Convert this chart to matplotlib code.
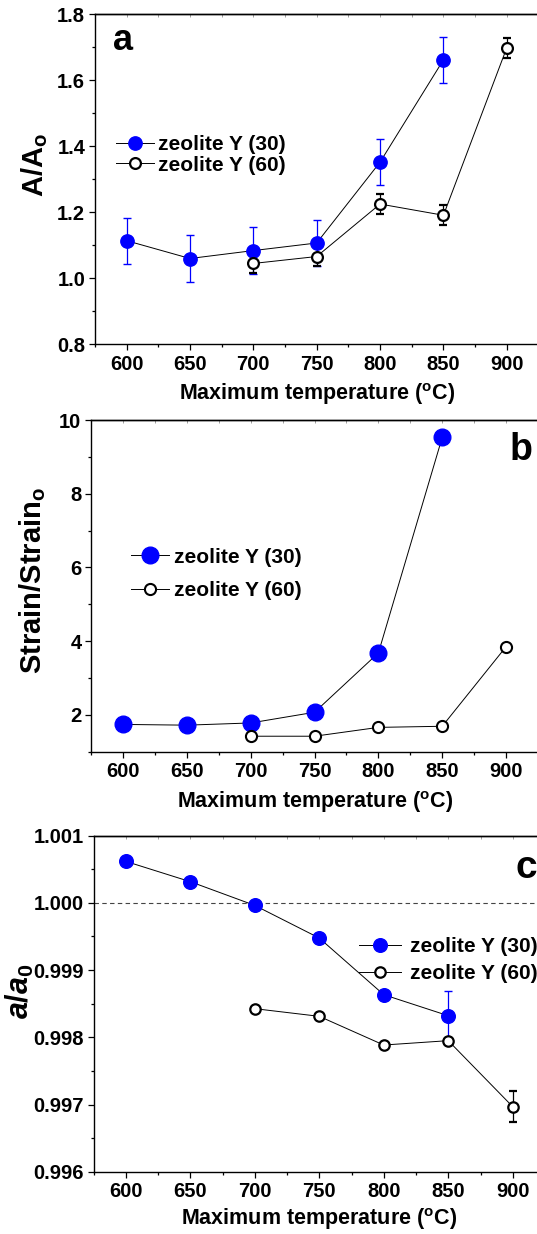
import matplotlib
matplotlib.use("Agg")
import matplotlib.pyplot as plt
from matplotlib.ticker import MultipleLocator, FormatStrFormatter

plt.rcParams['font.family'] = ['Liberation Sans', 'DejaVu Sans']
plt.rcParams['font.weight'] = 'bold'
plt.rcParams['axes.labelweight'] = 'bold'
plt.rcParams['mathtext.fontset'] = 'custom'
plt.rcParams['mathtext.rm'] = 'Liberation Sans:bold'
plt.rcParams['mathtext.bf'] = 'Liberation Sans:bold'
plt.rcParams['mathtext.it'] = 'Liberation Sans:bold:italic'

# data
temps30 = [600, 650, 700, 750, 800, 850]
temps60 = [700, 750, 800, 850, 900]

a30 = [1.114, 1.060, 1.084, 1.107, 1.352, 1.662]
a30_err = [0.07, 0.07, 0.07, 0.07, 0.07, 0.07]
a60 = [1.045, 1.066, 1.225, 1.191, 1.699]
a60_err = [0.03, 0.03, 0.03, 0.03, 0.03]

b30 = [1.74, 1.72, 1.78, 2.07, 3.68, 9.53]
b60 = [1.42, 1.42, 1.66, 1.69, 3.85]

c30 = [1.000618, 1.000316, 0.999963, 0.999477, 0.998634, 0.998321]
c30_err = [0, 0, 0, 0, 0, 0.00037]
c60 = [0.998426, 0.998312, 0.997885, 0.997950, 0.996967]
c60_err = [0.00002, 0.00002, 0.00001, 0.00001, 0.00023]

labels = ['zeolite Y (30)', 'zeolite Y (60)']
xticks = [600, 650, 700, 750, 800, 850, 900]

W, H = 537, 1234
fig = plt.figure(figsize=(W / 100, H / 100), dpi=100)


def px_axes(left, top, right, bottom):
    return fig.add_axes([left / W, 1 - bottom / H, (right - left) / W, (bottom - top) / H])


def style(ax, ylim, major, minor, fmt):
    ax.set_xlim(575, 925)
    ax.set_ylim(*ylim)
    ax.set_xticks(xticks)
    ax.xaxis.set_minor_locator(MultipleLocator(25))
    ax.yaxis.set_major_locator(MultipleLocator(major))
    ax.yaxis.set_minor_locator(MultipleLocator(minor))
    ax.yaxis.set_major_formatter(FormatStrFormatter(fmt))
    ax.tick_params(which='major', direction='out', length=4.5, width=0.9, labelsize=14.5, pad=2.5)
    ax.tick_params(which='minor', direction='out', length=2.5, width=0.9)
    ax.tick_params(axis='x', pad=3)
    for s in ax.spines.values():
        s.set_linewidth(1.0)
    top = ax.secondary_xaxis('top')
    top.set_xticks(xticks)
    top.xaxis.set_minor_locator(MultipleLocator(25))
    top.tick_params(which='both', direction='in', length=2, width=0.5, colors='#777777', labeltop=False)
    top.spines['top'].set_linewidth(1.0)
    top.spines['top'].set_color('black')
    ax.set_xlabel(r'Maximum temperature ($^{\rm o}$C)', fontsize=15.5)


def series(ax, x, y, err, filled, ms, mew):
    if filled:
        kw = dict(marker='o', ms=ms, mfc='blue', mec='blue', mew=mew)
        ecol = 'blue'
    else:
        kw = dict(marker='o', ms=ms, mfc='white', mec='black', mew=mew)
        ecol = 'black'
    if err is None:
        line, = ax.plot(x, y, color='black', lw=0.7, **kw)
        return line
    eb = ax.errorbar(x, y, yerr=err, color='black', lw=0.7, ecolor=ecol,
                     elinewidth=0.9, capsize=3, capthick=0.9, **kw)
    return eb[0]


def legend(ax, handles, cx, cy, hl, tp, sp):
    ax.legend(handles, labels, loc='center left', bbox_to_anchor=(cx / W, 1 - cy / H),
              bbox_transform=fig.transFigure, frameon=False, fontsize=15,
              handlelength=hl, handletextpad=tp, labelspacing=sp,
              borderpad=0, borderaxespad=0, numpoints=1)


# panel a
ax1 = px_axes(94.9, 14.3, 538.5, 344.3)
h1 = series(ax1, temps30, a30, a30_err, True, 9.6, 1.0)
h2 = series(ax1, temps60, a60, a60_err, False, 7.8, 1.6)
style(ax1, (0.8, 1.8), 0.2, 0.1, '%.1f')
ax1.set_ylabel(r'A/A$_{\rm o}$', fontsize=21)
ax1.yaxis.set_label_coords(-0.101, 0.543)
ax1.xaxis.set_label_coords(0.5, -0.112)
legend(ax1, [h1, h2], 115.8, 154.8, 1.83, 0.2, 0.09)
fig.text(113 / W, 1 - 50 / H, 'a', fontsize=26, fontweight='bold')

# panel b
ax2 = px_axes(91.1, 420, 538, 751.7)
h1 = series(ax2, temps30, b30, None, True, 12, 1.0)
h2 = series(ax2, temps60, b60, None, False, 8, 1.5)
style(ax2, (1, 10), 2, 1, '%d')
ax2.set_ylabel(r'Strain/Strain$_{\rm o}$', fontsize=21)
ax2.yaxis.set_label_coords(-0.096, 0.515)
ax2.xaxis.set_label_coords(0.5, -0.112)
legend(ax2, [h1, h2], 131, 573.8, 1.8, 0.26, 0.69)
fig.text(509.6 / W, 1 - 460 / H, 'b', fontsize=27, fontweight='bold')

# panel c
ax3 = px_axes(93.5, 835.7, 545, 1171.7)
ax3.axhline(1.0, color='#444444', lw=0.8, ls=(0, (4, 3)))
h1 = series(ax3, temps30, c30, c30_err, True, 9.8, 1.0)
h2 = series(ax3, temps60, c60, c60_err, False, 7.5, 1.6)
style(ax3, (0.996, 1.001), 0.001, 0.0005, '%.3f')
ax3.set_ylabel(r'$a/a_{\rm 0}$', fontsize=22)
ax3.yaxis.set_label_coords(-0.127, 0.536)
ax3.xaxis.set_label_coords(0.5, -0.103)
legend(ax3, [h1, h2], 359, 960, 2.0, 0.46, 0.39)
fig.text(515.4 / W, 1 - 878.3 / H, 'c', fontsize=28, fontweight='bold')

fig.savefig('out.png', dpi=100)
